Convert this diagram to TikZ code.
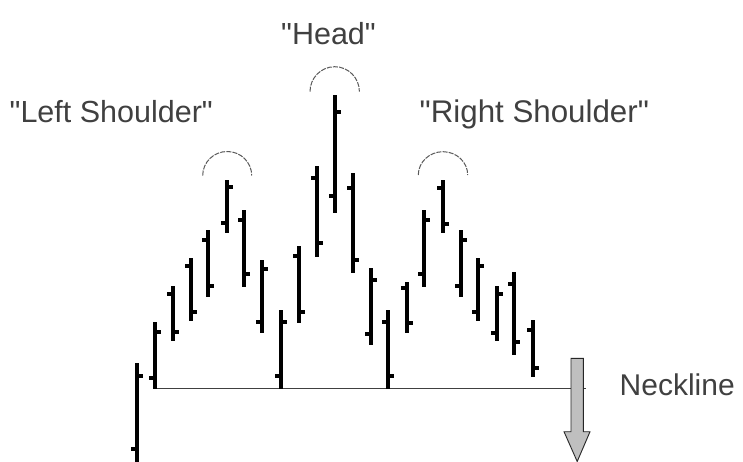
\documentclass[tikz,border=0pt]{standalone}
\usepackage{fontspec}
\setmainfont{Liberation Sans}[Ligatures=TeXOff]
\newcommand\ohlcbar[5]{%
  \fill[barfill] (#1-2,#2) rectangle (#1+2,#3);
  \fill[barfill] (#1-6,#4-2) rectangle (#1,#4+2);
  \fill[barfill] (#1,#5-2) rectangle (#1+6,#5+2);
}
\begin{document}
\begin{tikzpicture}[x=1pt,y=-1pt,
  barfill/.style={black},
  label/.style={font=\fontsize{30.5}{36}\selectfont, text=black!75, inner sep=0pt, anchor=base west},
  peakarc/.style={draw=black!65, line width=1pt, dash pattern=on 5pt off 1.2pt},
  neck/.style={draw=black!75, line width=1pt},
  dropArrow/.style={fill=black!25, draw=black!85, line width=0.9pt}]
\useasboundingbox (0,0) rectangle (743,462);
\fill[white] (0,0) rectangle (743,462);
% neckline
\coordinate (nl) at (155,388.3);
\coordinate (nr) at (586,388.3);
\draw[neck] (nl) -- (nr);
% bars: x, high, low, open (left tick), close (right tick)
\ohlcbar{136.5}{362.5}{462}{449}{376}
\ohlcbar{155}{322}{388.5}{378}{332}
\ohlcbar{172.7}{286}{341}{294}{332}
\ohlcbar{190.7}{258}{321}{266}{312}
\ohlcbar{208.3}{230}{297}{240}{286}
\ohlcbar{226.7}{180}{233}{223}{187}
\ohlcbar{244.3}{210}{287}{220}{274}
\ohlcbar{262.3}{260}{333}{322}{269}
\ohlcbar{281}{310}{388.5}{376}{322}
\ohlcbar{299}{246}{323}{256}{312}
\ohlcbar{316.7}{166}{257}{178}{243}
\ohlcbar{335}{95}{213}{196}{112}
\ohlcbar{352.7}{173}{273}{188}{260}
\ohlcbar{371}{268}{345}{334}{280}
\ohlcbar{388.3}{310}{388.5}{322}{376}
\ohlcbar{406.7}{282}{333}{288}{323}
\ohlcbar{424.3}{210}{287}{274}{220}
\ohlcbar{442.7}{180}{233}{188}{224}
\ohlcbar{460.7}{230}{297}{286}{240}
\ohlcbar{478.3}{258}{321}{312}{266}
\ohlcbar{496.7}{286}{341}{333}{294}
\ohlcbar{514.3}{272}{355}{284}{342}
\ohlcbar{532.7}{320}{377}{330}{368}
% arcs over peaks
\draw[peakarc] (202.7,175.5) arc[start angle=180, end angle=360, x radius=24.5, y radius=24];
\draw[peakarc] (310,91.7) arc[start angle=180, end angle=360, x radius=24.7, y radius=25];
\draw[peakarc] (418.3,175) arc[start angle=180, end angle=360, x radius=24.7, y radius=23.3];
% down arrow
\draw[dropArrow] (571,358.3) -- (583.3,358.3) -- (583.3,431.7) -- (590,431.7)
  -- (577.2,461.5) -- (564,431.7) -- (571,431.7) -- cycle;
% labels
\node[label] (head) at (281,45) {"Head"};
\node[label] (ls) at (9.5,122.3) {"Left Shoulder"};
\node[label, font=\fontsize{31.3}{36}\selectfont] (rs) at (419.5,122.3) {"Right Shoulder"};
\node[label, font=\fontsize{30}{36}\selectfont] (neckline) at (619.5,395) {Neckline};
\end{tikzpicture}
\end{document}
